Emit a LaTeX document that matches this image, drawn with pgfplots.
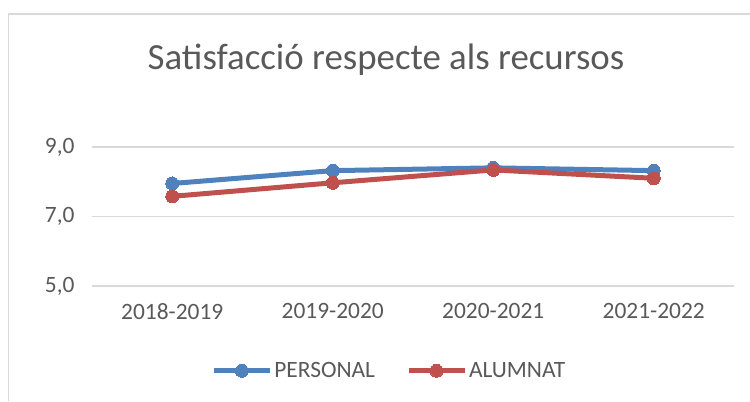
\documentclass[border=0pt]{standalone}
\usepackage{pgfplots}
\pgfplotsset{compat=1.18}
\usepackage{fontspec}
\setmainfont{Carlito}
\definecolor{txt}{HTML}{595959}
\definecolor{gridc}{HTML}{D9D9D9}
\definecolor{bord}{HTML}{D9D9D9}
\definecolor{blueS}{HTML}{4F81BD}
\definecolor{redS}{HTML}{C0504D}
\begin{document}
\begin{tikzpicture}[x=1bp,y=1bp]
\useasboundingbox (0,0) rectangle (750,401);
\draw[bord, line width=1.2bp] (8.5,0) -- (8.5,387) -- (750,387);
\node[font=\fontsize{37}{42}\selectfont, text=txt] at (386,341) {Satisfacció respecte als recursos};
\begin{axis}[
  at={(92bp,115bp)}, anchor=south west,
  width=642bp, height=139bp, scale only axis,
  xmin=-0.5, xmax=3.5, ymin=5, ymax=9,
  axis line style={draw=none},
  major tick length=0pt,
  ytick={5,7,9}, ymajorgrids,
  grid style={gridc, line width=1.2bp},
  xtick={0,1,2,3},
  xticklabels={2018-2019,2019-2020,2020-2021,2021-2022},
  /pgf/number format/assume math mode=true,
  yticklabel={\pgfmathprintnumber[fixed,fixed zerofill,precision=1,use comma]{\tick}},
  ticklabel style={font=\fontsize{23.5}{26}\selectfont, text=txt},
  yticklabel style={xshift=-14bp},
  xticklabel style={yshift=-14bp},
  legend style={at={(0.463,-0.61)}, anchor=center, draw=none, fill=none,
    font=\fontsize{23.5}{26}\selectfont, text=txt,
    nodes={inner xsep=2bp},
    /tikz/every even column/.append style={column sep=29bp},
    legend cell align=left},
  legend columns=2,
  legend image code/.code={
    \draw[#1, mark repeat=2, mark phase=2] plot coordinates {(0bp,0bp) (28bp,0bp) (56bp,0bp)};
  },
  clip=false,
]
\addplot[blueS, line width=5bp, mark=*, mark size=6.5bp, mark options={line width=0pt}]
  coordinates {(0,7.95) (1,8.32) (2,8.40) (3,8.32)};
\addlegendentry{PERSONAL}
\addplot[redS, line width=5bp, mark=*, mark size=6.5bp, mark options={line width=0pt}]
  coordinates {(0,7.58) (1,7.97) (2,8.34) (3,8.10)};
\addlegendentry{ALUMNAT}
\end{axis}
\end{tikzpicture}
\end{document}
